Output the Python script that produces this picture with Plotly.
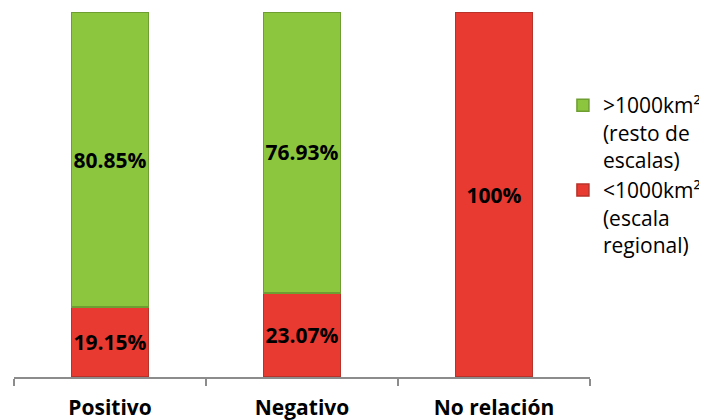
import plotly.graph_objects as go

categories = ["Positivo", "Negativo", "No relación"]
small_vals = [19.15, 23.07, 100]
large_vals = [80.85, 76.93, 0]
small_text = ["19.15%", "23.07%", "100%"]
large_text = ["80.85%", "76.93%", ""]

_GREEN = "#8CC63F"
_RED = "#E83A30"
_FONT = "'Open Sans', sans-serif"

fig = go.Figure()

fig.add_trace(go.Bar(
    x=categories,
    y=small_vals,
    name="<1000km²<br>(escala<br>regional)",
    marker=dict(color=_RED, line=dict(color="#B8322A", width=1.5)),
    text=small_text,
    textposition="inside",
    insidetextanchor="middle",
    textangle=0,
    constraintext="none",
    textfont=dict(size=21, color="black", family=_FONT, weight="bold"),
    width=0.4,
))
fig.add_trace(go.Bar(
    x=categories,
    y=large_vals,
    name=">1000km²<br>(resto de<br>escalas)",
    marker=dict(color=_GREEN, line=dict(color="#6E9E32", width=[1.5, 1.5, 0])),
    text=large_text,
    textposition="inside",
    insidetextanchor="middle",
    textangle=0,
    constraintext="none",
    textfont=dict(size=21, color="black", family=_FONT, weight="bold"),
    width=0.4,
))

# page body adds an 8px offset, so the figure is 8px smaller than the window
fig.update_layout(
    barmode="stack",
    plot_bgcolor="white",
    paper_bgcolor="white",
    font=dict(family=_FONT, size=21, color="black"),
    margin=dict(l=6, r=117, t=4, b=43, autoexpand=False),
    width=699,
    height=412,
    showlegend=True,
    legend=dict(
        x=0.953, y=0.80, xanchor="left", yanchor="top",
        font=dict(size=21, color="black"),
        itemwidth=30,
        tracegroupgap=10,
        valign="top",
    ),
    uniformtext=dict(mode="show", minsize=10),
)
fig.update_xaxes(
    showline=True, linecolor="#8C8C8C", linewidth=2,
    ticks="outside", tickson="boundaries", ticklen=7, tickcolor="#8C8C8C", tickwidth=2,
    tickfont=dict(size=21, family=_FONT, weight="bold"),
    ticklabelstandoff=11,
    showgrid=False,
)
fig.update_yaxes(range=[0, 100], visible=False, showgrid=False)

fig.write_html("out.html")
